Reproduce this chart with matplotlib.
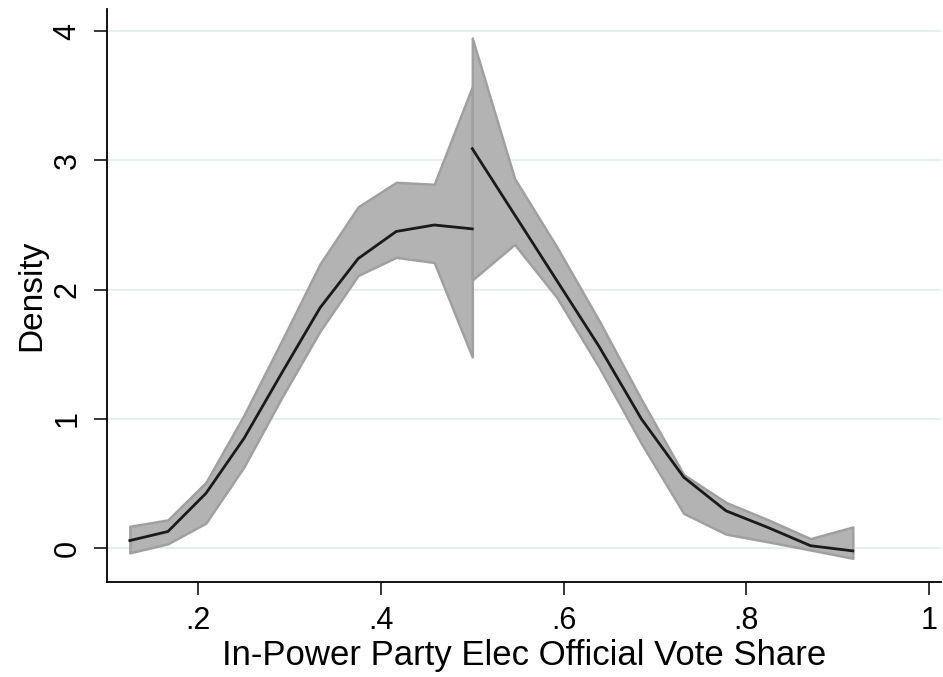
import matplotlib
matplotlib.use('Agg')
import matplotlib.pyplot as plt

# density estimate left of the cutoff
left_x = [0.125, 0.1667, 0.2083, 0.25, 0.2917, 0.3333, 0.375, 0.4167, 0.4583, 0.5]
left_y = [0.06, 0.13, 0.425, 0.85, 1.36, 1.86, 2.24, 2.45, 2.50, 2.47]
left_hi = [0.17, 0.22, 0.51, 1.03, 1.61, 2.20, 2.64, 2.83, 2.815, 3.57]
left_lo = [-0.035, 0.035, 0.195, 0.63, 1.17, 1.68, 2.11, 2.25, 2.21, 1.48]

# density estimate right of the cutoff
right_x = [0.5, 0.5463, 0.5926, 0.6389, 0.6852, 0.7315, 0.7778, 0.8241, 0.8704, 0.9167]
right_y = [3.09, 2.58, 2.07, 1.56, 1.00, 0.55, 0.29, 0.16, 0.02, -0.02]
right_hi = [3.945, 2.86, 2.33, 1.76, 1.15, 0.57, 0.355, 0.22, 0.075, 0.165]
right_lo = [2.075, 2.35, 1.94, 1.40, 0.81, 0.27, 0.11, 0.05, -0.013, -0.077]

xticks = [0.2, 0.4, 0.6, 0.8, 1.0]
xticklabels = ['.2', '.4', '.6', '.8', '1']
yticks = [0, 1, 2, 3, 4]

plt.rcParams['font.family'] = ['Liberation Sans', 'DejaVu Sans']

fig = plt.figure(figsize=(9.43, 6.77), dpi=100)
ax = fig.add_axes([0.1135, 0.1408, 0.8845, 0.8455])

for xs, ys, lo, hi in [(left_x, left_y, left_lo, left_hi),
                       (right_x, right_y, right_lo, right_hi)]:
    ax.fill_between(xs, lo, hi, facecolor='#b3b3b3', edgecolor='#a0a0a0',
                    linewidth=1.8, zorder=2)
    ax.plot(xs, ys, color='#1a1a1a', linewidth=2.0, zorder=3)

ax.set_xlim(0.1, 1.0134)
ax.set_ylim(-0.258, 4.168)
ax.set_xticks(xticks)
ax.set_xticklabels(xticklabels)
ax.set_yticks(yticks)

ax.grid(axis='y', color='#e6eff0', linewidth=1.4, zorder=0)
ax.set_axisbelow(True)
for s in ['top', 'right']:
    ax.spines[s].set_visible(False)
for s in ['left', 'bottom']:
    ax.spines[s].set_linewidth(1.3)
    ax.spines[s].set_color('black')

ax.tick_params(axis='both', length=9.5, width=1.1, labelsize=22, pad=8)
ax.tick_params(axis='y', labelrotation=90)
for lab in ax.get_yticklabels():
    lab.set_verticalalignment('center')

ax.set_xlabel('In-Power Party Elec Official Vote Share', fontsize=25, labelpad=2)
ax.set_ylabel('Density', fontsize=24, labelpad=4)

fig.savefig('out.png', dpi=100)
